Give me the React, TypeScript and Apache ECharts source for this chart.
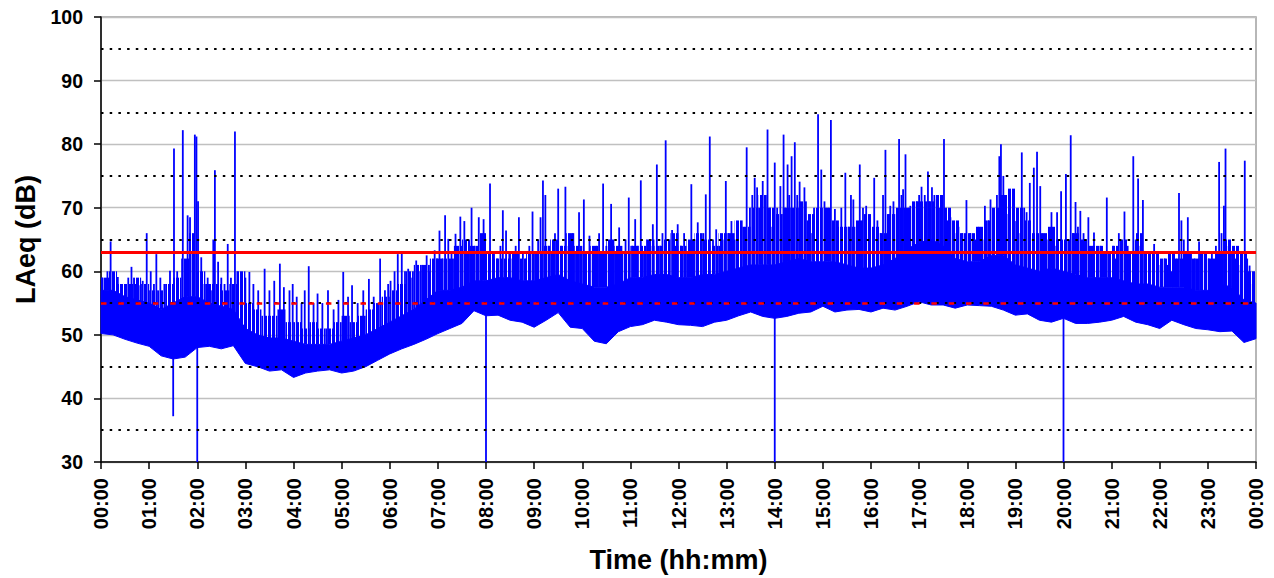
import React, { useEffect, useRef } from "react";
import * as echarts from "echarts";

// 15-minute time stamps (minutes after midnight) for the envelope arrays
const slotMinutes: number[] = Array.from({ length: 97 }, (_, i) => i * 15);

// lower envelope of the noise trace (dB), one value per 15 minutes
const floorDb = [
  50.2, 50.0, 49.3, 48.7, 48.2, 46.7, 46.2, 46.5, 48.0, 48.2, 47.8, 48.3,
  45.5, 45.0, 44.3, 44.5, 43.3, 44.0, 44.3, 44.5, 44.0, 44.3, 45.0, 46.0,
  47.0, 47.8, 48.5, 49.3, 50.2, 51.0, 51.8, 53.8, 53.0, 53.1, 52.3, 52.0,
  51.2, 52.3, 53.5, 51.2, 51.0, 49.0, 48.6, 50.5, 51.3, 51.6, 52.3, 52.0,
  51.6, 51.5, 51.3, 52.0, 52.3, 53.0, 53.6, 52.9, 52.6, 52.9, 53.4, 53.6,
  54.5, 53.6, 53.9, 54.0, 53.6, 54.2, 53.9, 54.5, 55.2, 54.7, 54.7, 54.2,
  54.7, 54.6, 54.5, 53.9, 53.1, 53.3, 52.3, 52.0, 52.6, 51.8, 51.8, 52.0,
  52.3, 52.9, 52.0, 51.6, 51.0, 52.3, 51.6, 51.0, 50.8, 50.5, 50.6, 48.8,
  49.4,
];

// upper edge of the solid part of the trace (dB), one value per 15 minutes
const bandTopDb = [
  57, 57, 56, 55.5, 55, 54, 55, 56, 56, 55, 54.5, 54,
  51, 50, 49.5, 49.5, 49, 48.5, 48.5, 48.5, 49, 49.5, 50, 51,
  52, 53, 54, 55.5, 57, 57, 57.5, 58.5, 58.5, 59, 59, 58.5,
  58.5, 59, 59.5, 58.5, 58, 57.5, 57.5, 58, 59, 59, 59.5, 59.5,
  59, 59, 59.5, 59.5, 60, 60.5, 61, 61, 61, 61.5, 62, 61.5,
  61.5, 61.5, 61, 60.5, 60.5, 61, 62, 63.5, 64.5, 65, 64, 62,
  61.5, 61.5, 62.5, 62.5, 61, 60.5, 60, 60.5, 60, 59.5, 59, 59,
  59, 58.5, 58, 58, 57.5, 57.5, 57.5, 57, 57, 58, 57.5, 55.5,
  55,
];

// level reached by the dense clusters of short peaks (dB), one value per 10 minutes
const burstTopDb = [
  59, 60, 58, 58, 59, 58,
  57, 57, 58, 59, 62, 66,
  60, 58, 58, 57, 58, 60,
  55, 54, 53, 53, 54, 52,
  52, 51, 52, 51, 51, 52,
  53, 52, 53, 54, 55, 56,
  57, 58, 60, 61, 61, 62,
  62, 62, 64, 65, 64, 66,
  63, 62, 62, 63, 62, 63,
  63, 64, 65, 64, 66, 64,
  63, 64, 63, 65, 64, 63,
  64, 64, 65, 64, 65, 66,
  64, 65, 66, 65, 64, 66,
  66, 68, 67, 70, 72, 70,
  69, 70, 70, 71, 69, 70,
  70, 68, 67, 67, 68, 69,
  67, 66, 69, 70, 70, 71,
  71, 71, 72, 70, 68, 66,
  66, 67, 68, 70, 72, 73,
  70, 68, 66, 66, 67, 65,
  65, 66, 65, 64, 64, 63,
  64, 65, 63, 66, 63, 63,
  62, 63, 62, 63, 62, 63,
  62, 63, 65, 64, 63, 60,
];

// short noise events: [minute, peak dB]
const spikes: [number, number][] = [
  [2, 59], [5, 58.5], [8, 60], [12, 64.7], [16, 58], [21, 59.1], [26, 57.5], [31, 58], [34, 59], [38, 60.7],
  [43, 58], [47, 57.8], [52, 58.5], [57, 66], [62, 60], [66, 58], [69, 62.7], [74, 59], [79, 58], [86, 60.1],
  [91, 79.3], [95, 60], [102, 82.2], [106, 61.5], [108, 68.8], [111, 68.5], [114, 63], [117, 81.5], [119, 81.2], [121, 71],
  [125, 62.2], [129, 58], [133, 59], [137, 57], [140, 65], [142, 75.9], [146, 61.5], [150, 59], [154, 58], [158, 64.3],
  [162, 59], [167, 82], [170, 60], [175, 58], [180, 59], [185, 59.9],
  [190, 58], [196, 57], [204, 60.4], [210, 57], [216, 58.5], [223, 61.2], [228, 57.5], [235, 57], [239, 58],
  [244, 56], [250, 55], [254, 57], [259, 60.8], [265, 55], [270, 56.5], [276, 55], [283, 57], [290, 54], [296, 55.5],
  [302, 59.9], [308, 56], [313, 57.8], [320, 55], [327, 57], [334, 58.8], [340, 56], [348, 62], [354, 57], [358, 58],
  [361, 58.5], [366, 60], [370, 62.7], [375, 63], [379, 60], [383, 60.4], [388, 59], [393, 61.7], [398, 60], [402, 61],
  [406, 62.5], [410, 60], [416, 63.3], [419, 62], [422, 66.4],
  [426, 62], [429, 68.8], [433, 65.1], [437, 63], [442, 65.9], [445, 62], [448, 68.6], [453, 67.9], [457, 63], [462, 70],
  [466, 64], [471, 68.5], [474, 63], [477, 68.2],
  [485, 73.8], [490, 63], [494, 62], [498, 64], [501, 69.6], [505, 66.4], [509, 63], [513, 62], [517, 64], [521, 68.5],
  [526, 63], [530, 62], [534, 64], [538, 69.4],
  [542, 63], [545, 65], [548, 68.5], [551, 74.3], [554, 72], [558, 64], [562, 63], [566, 66], [570, 73], [574, 64],
  [579, 73.3], [583, 64], [587, 66], [591, 63],
  [596, 69.3], [602, 71.3], [609, 65.6], [613, 63], [617, 64], [621, 66], [626, 73.8], [630, 64], [636, 70.6], [641, 63],
  [646, 66.9], [650, 63], [654, 65],
  [658, 71.6], [662, 64], [666, 68.2], [669, 64], [673, 74.3], [677, 63], [681, 65], [685, 64], [688, 67.4], [693, 76.8],
  [697, 64], [700, 66], [704, 80.6], [708, 65], [712, 66.5], [716, 64], [719, 67.4],
  [723, 64], [727, 66], [731, 63], [736, 73.7], [740, 65], [744, 67.7], [748, 64], [751, 66], [754, 72.1], [759, 81.2],
  [763, 65], [767, 66.6], [771, 64], [775, 65], [779, 74.2],
  [782, 66], [786, 67.9], [790, 65], [794, 67.7], [798, 64], [801, 67], [805, 79.5], [809, 70], [812, 72], [815, 74.7],
  [818, 73.2], [821, 70], [825, 74.2], [828, 71], [831, 82.3], [834, 70], [837, 67],
  [840, 77.1], [843, 70], [847, 73.4], [851, 81.5], [853, 70], [856, 76.8], [858, 72], [861, 78.1], [865, 80.3], [868, 72],
  [871, 74.1], [874, 70], [877, 73.2], [881, 68], [885, 66], [889, 70], [894, 84.7], [898, 76],
  [902, 71], [906, 70], [910, 83.8], [915, 69.8], [919, 67], [923, 70], [928, 75.5], [932, 67], [935, 72], [938, 71.3],
  [942, 67], [946, 76.8], [950, 70], [954, 70.3], [958, 68],
  [964, 74.7], [968, 68], [972, 66], [975, 72], [978, 79.1], [981, 69], [984, 70.3], [988, 71], [992, 69], [995, 80.8],
  [998, 72], [1000, 72.9], [1003, 78.4], [1006, 70], [1009, 70.3], [1013, 69], [1017, 71], [1020, 72],
  [1023, 73.3], [1027, 72], [1031, 75.7], [1033, 71], [1036, 73.2], [1039, 72], [1042, 71.3], [1046, 70], [1048, 72], [1051, 80.8],
  [1055, 68], [1059, 68.5], [1064, 66], [1069, 67], [1074, 66], [1079, 71.2],
  [1084, 66], [1090, 65], [1095, 67], [1099, 65], [1102, 70.3], [1106, 68], [1109, 71.3], [1113, 67], [1117, 72], [1120, 78.1],
  [1122, 80], [1125, 75], [1129, 69], [1133, 66], [1137, 67],
  [1141, 67.9], [1144, 66], [1148, 78.7], [1151, 70], [1154, 69.3], [1158, 73.9], [1163, 76.3], [1167, 78.8], [1171, 73.4], [1175, 66],
  [1179, 65], [1182, 64], [1185, 69.3], [1189, 64], [1192, 69.3], [1197, 72.6],
  [1203, 75.3], [1206, 65], [1209, 81.4], [1212, 66], [1215, 70.9], [1218, 67], [1221, 69.5], [1225, 66], [1228, 65], [1231, 68.5],
  [1235, 64], [1238, 66.1], [1242, 63], [1246, 64], [1250, 63], [1254, 71.6], [1258, 63],
  [1262, 64], [1265, 62], [1269, 66], [1273, 63], [1276, 69.4], [1280, 64], [1283, 63], [1287, 78.1], [1290, 65], [1293, 74.6],
  [1296, 64], [1299, 71.2], [1303, 63], [1308, 62], [1313, 64.3], [1317, 62],
  [1321, 61], [1326, 62], [1330, 61], [1335, 60], [1340, 62], [1344, 72.3], [1347, 68], [1350, 65], [1355, 68.5], [1359, 63],
  [1364, 62], [1369, 64.7], [1373, 63], [1377, 62],
  [1381, 62], [1385, 63], [1390, 64], [1394, 77.2], [1397, 66], [1400, 70.3], [1402, 79.3], [1406, 64], [1410, 63], [1414, 62],
  [1418, 61], [1422, 60], [1426, 77.4], [1429, 62], [1432, 60.9], [1436, 58],
];

// momentary drop-outs: [minute, lowest dB]
const dropouts: [number, number][] = [[90, 37.2], [120, 30], [480, 30], [840, 30], [1200, 30]];

// reference levels
const dottedLevels = [35, 45, 55, 65, 75, 85, 95];
const dashedLimit = 55;
const solidLimit = 63;

const FONT = "Arial, 'Liberation Sans', sans-serif";

function pad(n: number) {
  return n < 10 ? "0" + n : String(n);
}
function fmt(v: number) {
  const h = Math.floor(v / 60) % 24;
  const m = Math.round(v % 60);
  return pad(h) + ":" + pad(m);
}
function minTopBetween(m0: number, m1: number) {
  const a = Math.floor(m0 / 15);
  const b = Math.min(96, Math.ceil(m1 / 15));
  let v = Infinity;
  for (let i = a; i <= b; i++) v = Math.min(v, bandTopDb[i]);
  return v;
}
function minFloorBetween(m0: number, m1: number) {
  const a = Math.floor(m0 / 15);
  const b = Math.min(96, Math.ceil(m1 / 15));
  let v = Infinity;
  for (let i = a; i <= b; i++) v = Math.min(v, floorDb[i]);
  return v;
}

const spikeRows = spikes.map(([m, p]) => [m, minTopBetween(m, m), p]);
const dropRows = dropouts.map(([m, low]) => [m, minFloorBetween(m, m) + 1, low]);
const burstRows = burstTopDb.map((v, i) => [i * 10, minTopBetween(i * 10, i * 10 + 10), v]);

export default function App() {
  const ref = useRef<HTMLDivElement>(null);
  useEffect(() => {
    if (!ref.current) return;
    const cv = document.createElement("canvas");
    cv.width = 4;
    cv.height = 1;
    const ctx = cv.getContext("2d");
    if (ctx) {
      ctx.fillStyle = "#0000ff";
      ctx.fillRect(0, 0, 3, 1);
    }
    const stripe = cv.toDataURL();

    const chart = echarts.init(ref.current, null, { renderer: "svg" });
    const option: any = {
      animation: false,
      backgroundColor: "#fff",
      grid: {
        left: 101,
        top: 17,
        right: 18,
        bottom: 114,
        show: true,
        borderColor: "#a0a0a0",
        borderWidth: 1.5,
      },
      xAxis: {
        type: "value",
        min: 0,
        max: 1440,
        interval: 60,
        axisLine: { show: true, onZero: false, lineStyle: { color: "#000", width: 1.5 } },
        axisTick: { show: true, length: 7, lineStyle: { color: "#000", width: 1.5 } },
        axisLabel: {
          rotate: 90,
          margin: 16,
          fontSize: 20,
          fontWeight: "bold",
          color: "#000",
          fontFamily: FONT,
          formatter: fmt,
          showMinLabel: true,
          showMaxLabel: true,
        },
        splitLine: { show: false },
        name: "Time (hh:mm)",
        nameLocation: "middle",
        nameGap: 84,
        nameTextStyle: { fontSize: 27, fontWeight: "bold", color: "#000", fontFamily: FONT, verticalAlign: "top" },
      },
      yAxis: {
        type: "value",
        min: 30,
        max: 100,
        interval: 10,
        axisLine: { show: true, lineStyle: { color: "#000", width: 1.5 } },
        axisTick: { show: true, length: 7, lineStyle: { color: "#000", width: 1.5 } },
        axisLabel: {
          margin: 18,
          fontSize: 19.5,
          fontWeight: "bold",
          color: "#000",
          fontFamily: FONT,
        },
        splitLine: { show: true, lineStyle: { color: "#c0c0c0", width: 1.3 } },
        name: "LAeq (dB)",
        nameLocation: "middle",
        nameGap: 58,
        nameTextStyle: { fontSize: 27, fontWeight: "bold", color: "#000", fontFamily: FONT },
      },
      series: [
        {
          type: "custom",
          name: "bursts",
          silent: true,
          z: 1,
          data: burstRows,
          encode: { x: 0, y: [1, 2] },
          renderItem: (_p: any, api: any) => {
            const m = api.value(0);
            const p1 = api.coord([m, api.value(2)]);
            const p2 = api.coord([Math.min(1440, m + 10), api.value(1)]);
            return {
              type: "rect",
              shape: { x: p1[0], y: p1[1], width: p2[0] - p1[0], height: p2[1] - p1[1] },
              style: { fill: { image: stripe, repeat: "repeat", imageWidth: 4, imageHeight: 1 } },
            };
          },
        },
        {
          type: "custom",
          name: "band",
          silent: true,
          z: 2,
          data: [[0, floorDb[0]]],
          renderItem: (_p: any, api: any) => {
            const top = slotMinutes.map((m, i) => api.coord([m, bandTopDb[i]]));
            const bot = slotMinutes.map((m, i) => api.coord([m, floorDb[i]])).reverse();
            return {
              type: "polygon",
              shape: { points: top.concat(bot) },
              style: { fill: "#0000ff", stroke: "#0000ff", lineWidth: 1 },
            };
          },
        },
        {
          type: "custom",
          name: "events",
          silent: true,
          z: 3,
          data: spikeRows.concat(dropRows),
          encode: { x: 0, y: [1, 2] },
          renderItem: (_p: any, api: any) => {
            const m = api.value(0);
            const s = api.coord([m, api.value(1)]);
            const e = api.coord([m, api.value(2)]);
            return {
              type: "line",
              shape: { x1: s[0], y1: s[1], x2: e[0], y2: e[1] },
              style: { stroke: "#0000ff", lineWidth: 1.8 },
            };
          },
        },
        {
          type: "line",
          name: "levels",
          data: [],
          z: 10,
          markLine: {
            silent: true,
            symbol: ["none", "none"],
            label: { show: false },
            animation: false,
            data: [
              ...dottedLevels.map((v) => ({
                yAxis: v,
                lineStyle: { color: "#000", width: 2.2, type: [2.5, 6.2] },
              })),
              { yAxis: dashedLimit, lineStyle: { color: "#ff0000", width: 2.6, type: [5.5, 11.8] } },
              { yAxis: solidLimit, lineStyle: { color: "#ff0000", width: 3, type: "solid" } },
            ],
          },
        },
      ],
    };
    chart.setOption(option);
    return () => chart.dispose();
  }, []);
  return (
    <div
      ref={ref}
      style={{ position: "fixed", left: 0, top: 0, width: 1274, height: 578, background: "#fff" }}
    />
  );
}
